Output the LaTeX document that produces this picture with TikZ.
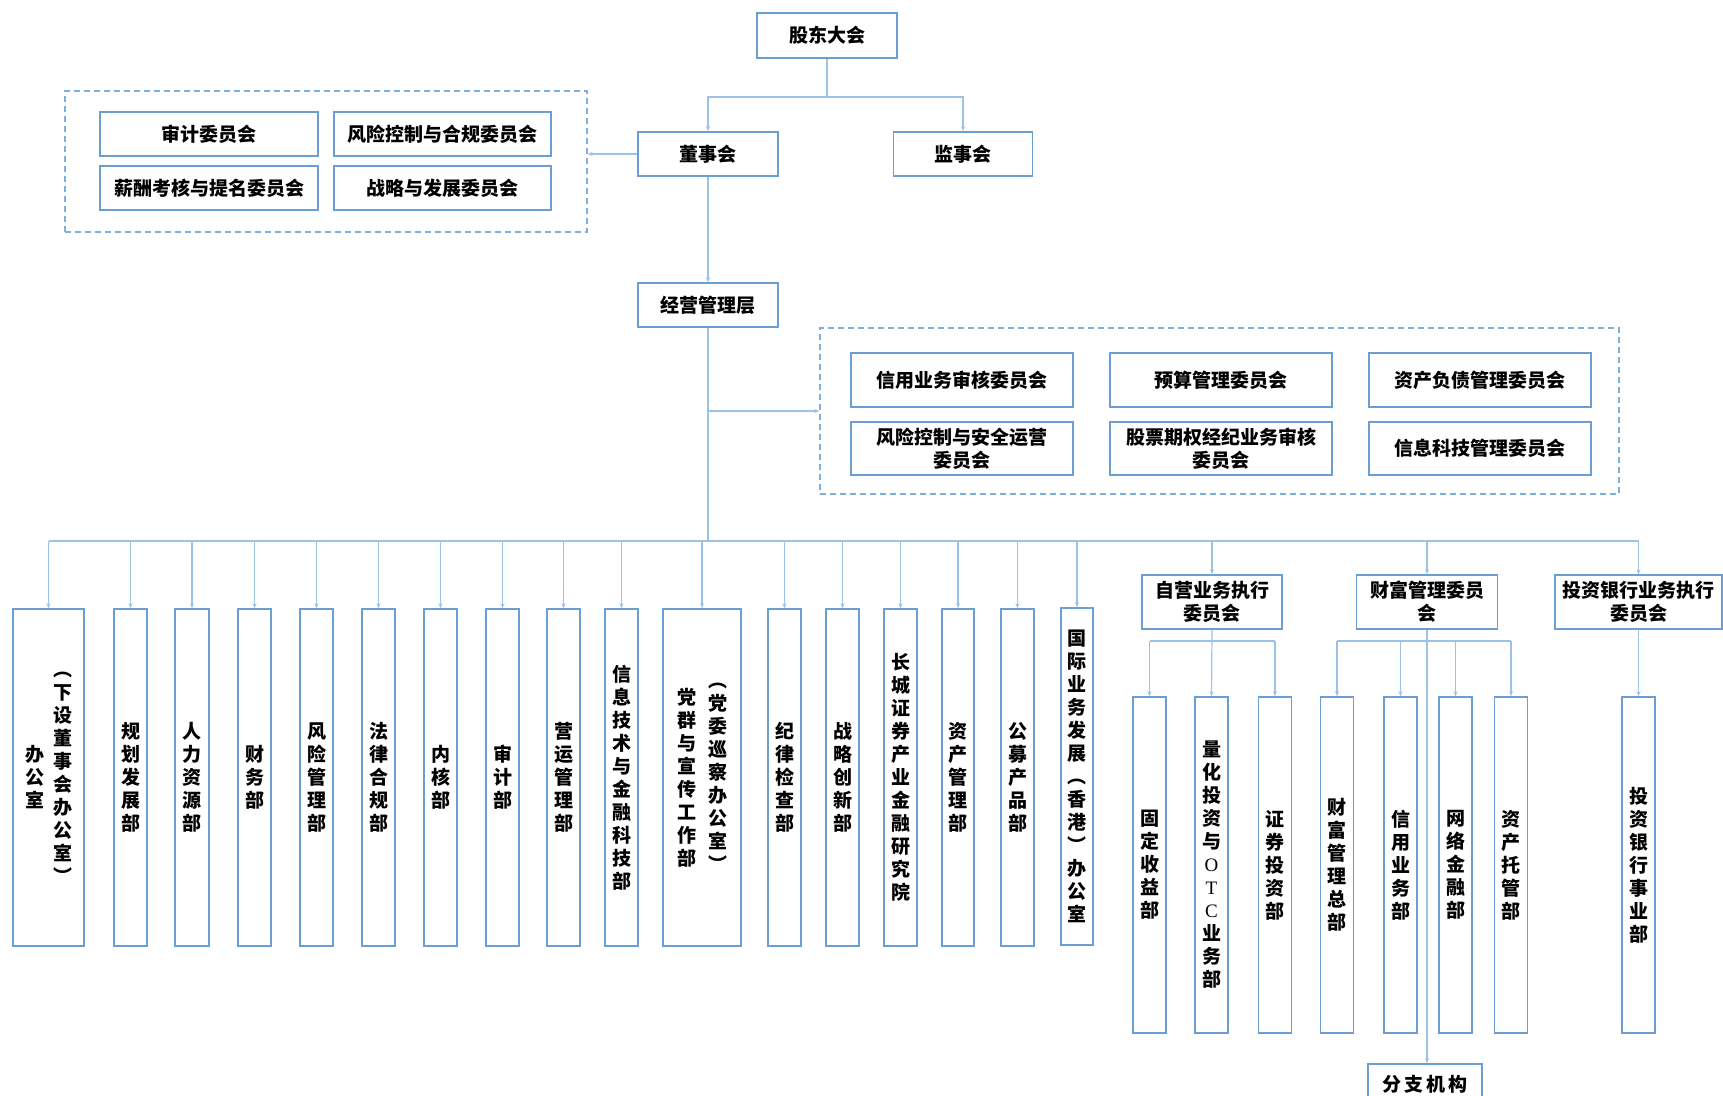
\documentclass[tikz,border=0pt]{standalone}
\usepackage{fontspec}
\newfontfamily\cjk{Noto Sans CJK SC}
\newfontfamily\lat{Liberation Serif}
\usetikzlibrary{arrows.meta}
\definecolor{boxblue}{HTML}{6A9FD6}
\definecolor{lineblue}{HTML}{9CC2E5}
\definecolor{dashblue}{HTML}{7EB0DD}
\begin{document}
\begin{tikzpicture}[x=1pt,y=-1pt,
 box/.style={draw=boxblue, line width=1.5pt, fill=white, inner sep=0pt, align=center, font=\cjk\bfseries\fontsize{19}{23}\selectfont},
 vbox/.style={box, minimum width=33pt, minimum height=337pt},
 sbox/.style={box, minimum width=33pt, minimum height=336pt},
 col/.style={inner sep=0pt, align=center, font=\cjk\bfseries\fontsize{19}{23}\selectfont},
 conn/.style={draw=lineblue, line width=1.2pt},
 arr/.style={conn, -{Stealth[length=5pt,width=4pt]}},
 dbox/.style={draw=dashblue, line width=1.3pt, dash pattern=on 6pt off 4pt, inner sep=0pt},
]
\useasboundingbox (0,0) rectangle (1723,1095);
\fill[white] (0,0) rectangle (1723,1095);

% top level
\node[box, minimum width=140pt, minimum height=45pt] (gd) at (827,35.5) {股东大会};
\node[box, minimum width=140pt, minimum height=44pt] (dsh) at (708,154) {董事会};
\node[box, minimum width=139pt, minimum height=44pt] (jsh) at (963,154) {监事会};
\node[box, minimum width=140pt, minimum height=44pt] (jyc) at (708,305) {经营管理层};

% left dashed group
\node[dbox, minimum width=522pt, minimum height=141pt] (lg) at (326,161.5) {};
\node[box, minimum width=218pt, minimum height=44pt] (a1) at (209,134) {审计委员会};
\node[box, minimum width=217pt, minimum height=44pt] (a2) at (442.5,134) {风险控制与合规委员会};
\node[box, minimum width=218pt, minimum height=44pt] (a3) at (209,188) {薪酬考核与提名委员会};
\node[box, minimum width=217pt, minimum height=44pt] (a4) at (442.5,188) {战略与发展委员会};

% right dashed group
\node[dbox, minimum width=799pt, minimum height=166pt] (rg) at (1219.5,411) {};
\node[box, minimum width=222pt, minimum height=54pt] (r1) at (962,380) {信用业务审核委员会};
\node[box, minimum width=222pt, minimum height=54pt] (r2) at (1221,380) {预算管理委员会};
\node[box, minimum width=222pt, minimum height=54pt] (r3) at (1480,380) {资产负债管理委员会};
\node[box, minimum width=222pt, minimum height=53pt] (r4) at (962,448.5) {风险控制与安全运营\\委员会};
\node[box, minimum width=222pt, minimum height=53pt] (r5) at (1221,448.5) {股票期权经纪业务审核\\委员会};
\node[box, minimum width=222pt, minimum height=53pt] (r6) at (1480,448.5) {信息科技管理委员会};

% connectors top
\coordinate (j1) at (827,97);
\draw[conn] (gd.south) -- (j1);
\draw[arr] (j1) -| (dsh.north);
\draw[arr] (j1) -| (jsh.north);
\draw[arr] (dsh.west) -- (dsh.west -| lg.east);
\draw[arr] (dsh.south) -- (jyc.north);
\coordinate (bus) at (708,541);
\draw[conn] (jyc.south) -- (bus);
\draw[arr] (jyc.south |- rg.west) -- (rg.west);

% bottom departments
\node[vbox, minimum width=71pt] (b1) at (48.5,777.5) {};
\node[col] (b1l) at ([xshift=-13.5pt]b1.center) {办\\公\\室};
\node[col] (b1r) at ([xshift=14.5pt]b1.center) {︵\\下\\设\\董\\事\\会\\办\\公\\室\\︶};
\node[vbox] (b2) at (130.5,777.5) {规\\划\\发\\展\\部};
\node[vbox, minimum width=34pt] (b3) at (192,777.5) {人\\力\\资\\源\\部};
\node[vbox] (b4) at (254.5,777.5) {财\\务\\部};
\node[vbox] (b5) at (316.5,777.5) {风\\险\\管\\理\\部};
\node[vbox] (b6) at (378.5,777.5) {法\\律\\合\\规\\部};
\node[vbox] (b7) at (440.5,777.5) {内\\核\\部};
\node[vbox] (b8) at (502.5,777.5) {审\\计\\部};
\node[vbox] (b9) at (563.5,777.5) {营\\运\\管\\理\\部};
\node[vbox] (b10) at (621.5,777.5) {信\\息\\技\\术\\与\\金\\融\\科\\技\\部};
\node[vbox, minimum width=78pt] (b11) at (702,777.5) {};
\node[col] (b11l) at ([xshift=-15pt]b11.center) {党\\群\\与\\宣\\传\\工\\作\\部};
\node[col] (b11r) at ([xshift=16pt]b11.center) {︵\\党\\委\\巡\\察\\办\\公\\室\\︶};
\node[vbox] (b12) at (784.5,777.5) {纪\\律\\检\\查\\部};
\node[vbox] (b13) at (842.5,777.5) {战\\略\\创\\新\\部};
\node[vbox] (b14) at (900.5,777.5) {长\\城\\证\\券\\产\\业\\金\\融\\研\\究\\院};
\node[vbox, minimum width=32pt] (b15) at (958,777.5) {资\\产\\管\\理\\部};
\node[vbox] (b16) at (1017.5,777.5) {公\\募\\产\\品\\部};
\node[vbox, minimum width=32pt] (b17) at (1077,776.5) {国\\际\\业\\务\\发\\展\\︵\\香\\港\\︶\\办\\公\\室};

% committees
\node[box, minimum width=140pt, minimum height=54pt] (c1) at (1212,602) {自营业务执行\\委员会};
\node[box, minimum width=141pt, minimum height=54pt] (c2) at (1427,602) {财富管理委员\\会};
\node[box, minimum width=167pt, minimum height=54pt] (c3) at (1638.5,602) {投资银行业务执行\\委员会};

% sub departments
\node[sbox] (s1) at (1149.5,865) {固\\定\\收\\益\\部};
\node[sbox] (s2) at (1211.5,865) {量\\化\\投\\资\\与\\{\lat\mdseries O}\\{\lat\mdseries T}\\{\lat\mdseries C}\\业\\务\\部};
\node[sbox] (s3) at (1275,865) {证\\券\\投\\资\\部};
\node[sbox] (s4) at (1337,865) {财\\富\\管\\理\\总\\部};
\node[sbox] (s5) at (1400.5,865) {信\\用\\业\\务\\部};
\node[sbox] (s6) at (1455.5,865) {网\\络\\金\\融\\部};
\node[sbox] (s7) at (1511,865) {资\\产\\托\\管\\部};
\node[sbox] (s8) at (1638.5,865) {投\\资\\银\\行\\事\\业\\部};
\node[box, minimum width=114pt, minimum height=40pt] (fz) at (1425,1084) {分\,支\,机\,构};

% main bus
\draw[conn] (b1.north |- bus) -- (c3.north |- bus);
\foreach \n in {b1,b2,b3,b4,b5,b6,b7,b8,b9,b10,b11,b12,b13,b14,b15,b16,b17,c1,c2,c3}
  \draw[arr] (\n.north |- bus) -- (\n.north);

% sub buses
\coordinate (sb) at (0,641);
\draw[arr] (c1.south) -- (s2.north);
\draw[conn] (s1.north |- sb) -- (s3.north |- sb);
\foreach \n in {s1,s3} \draw[arr] (\n.north |- sb) -- (\n.north);
\draw[arr] (c2.south) -- (c2.south |- fz.north);
\draw[conn] (s4.north |- sb) -- (s7.north |- sb);
\foreach \n in {s4,s5,s6,s7} \draw[arr] (\n.north |- sb) -- (\n.north);
\draw[arr] (c3.south) -- (s8.north);
\end{tikzpicture}
\end{document}
